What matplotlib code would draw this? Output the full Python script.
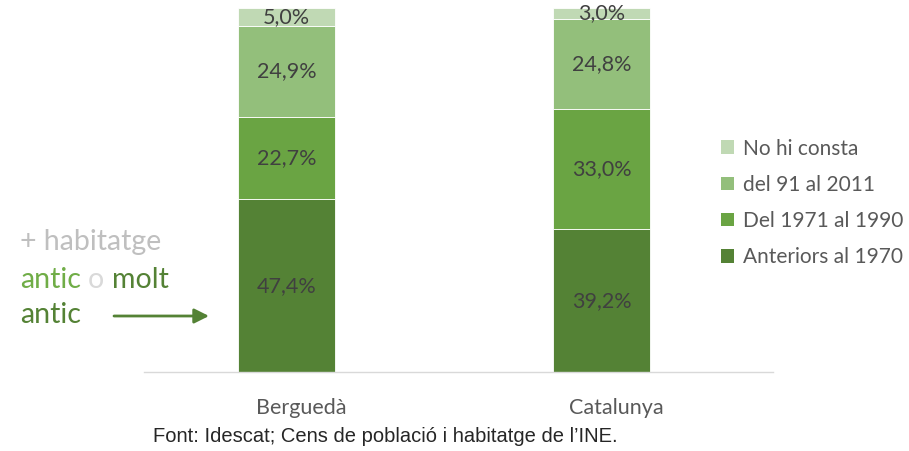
import matplotlib.pyplot as plt
import matplotlib.transforms as mtransforms
from matplotlib.patches import Patch

# Data
regions = ['Berguedà', 'Catalunya']
series_names = ['Anteriors al 1970', 'Del 1971 al 1990', 'del 91 al 2011', 'No hi consta']
anteriors_1970 = [47.4, 39.2]
del_1971_1990 = [22.7, 33.0]
del_91_2011 = [24.9, 24.8]
no_hi_consta = [5.0, 3.0]
series_values = [anteriors_1970, del_1971_1990, del_91_2011, no_hi_consta]
colors = ['#548235', '#6aa443', '#93bf7b', '#c0d9b4']

plt.rcParams['font.family'] = ['Lato', 'DejaVu Sans']

fig = plt.figure(figsize=(9.09, 4.51), dpi=100)
ax = fig.add_axes([0.1584, 0.1752, 0.692, 0.807])

x = range(len(regions))
bottoms = [0.0] * len(regions)
for vals, col in zip(series_values, colors):
    ax.bar(x, vals, bottom=bottoms, width=0.31, color=col, edgecolor='white', linewidth=0.6)
    for xi, v, b in zip(x, vals, bottoms):
        ax.text(xi, b + v / 2, f"{v:.1f}%".replace('.', ','), ha='center', va='center',
                fontsize=15.5, color='#404040')
    bottoms = [b + v for b, v in zip(bottoms, vals)]

ax.set_xlim(-0.452, 1.544)
ax.set_ylim(0, 100)
ax.set_xticks(list(x))
ax.set_xticklabels(regions, fontsize=15.5, color='#595959')
ax.tick_params(axis='x', length=0, pad=19)
# category labels sit a bit right of the bar centres in the original
shift = mtransforms.ScaledTranslation(15 / 100, 0, fig.dpi_scale_trans)
for lbl in ax.get_xticklabels():
    lbl.set_transform(lbl.get_transform() + shift)
ax.set_yticks([])
for side in ['top', 'left', 'right']:
    ax.spines[side].set_visible(False)
ax.spines['bottom'].set_color('#d9d9d9')
ax.spines['bottom'].set_linewidth(1)

# Legend (top entry = No hi consta)
handles = [Patch(facecolor=c, edgecolor='none') for c in colors][::-1]
leg = fig.legend(handles, series_names[::-1], loc='center left', bbox_to_anchor=(0.793, 0.550),
                 frameon=False, fontsize=15, handlelength=0.62, handleheight=0.62,
                 handletextpad=0.43, labelspacing=0.78, borderpad=0, borderaxespad=0)
for t in leg.get_texts():
    t.set_color('#595959')

# Annotation
fig.text(0.022, 1 - 242 / 451, '+ habitatge', fontsize=20.5, color='#bfbfbf', va='center')
fig.text(0.022, 1 - 280 / 451, 'antic', fontsize=20.5, color='#70ad47', va='center')
fig.text(88 / 909, 1 - 280 / 451, 'o', fontsize=20.5, color='#d9d9d9', va='center')
fig.text(112 / 909, 1 - 280 / 451, 'molt', fontsize=20.5, color='#548235', va='center')
fig.text(0.022, 1 - 315 / 451, 'antic', fontsize=20.5, color='#548235', va='center')
ax.annotate('', xy=(209 / 909, 1 - 316 / 451), xytext=(114 / 909, 1 - 316 / 451),
            xycoords='figure fraction', textcoords='figure fraction',
            arrowprops=dict(arrowstyle='-|>', color='#548235', lw=2, mutation_scale=22,
                            shrinkA=0, shrinkB=0))

# Source
fig.text(153 / 909, 1 - 437 / 451, "Font: Idescat; Cens de població i habitatge de l’INE.",
         fontsize=14.5, color='#262626', va='center', family=['Liberation Sans', 'DejaVu Sans'])

fig.savefig('out.png', dpi=100)
